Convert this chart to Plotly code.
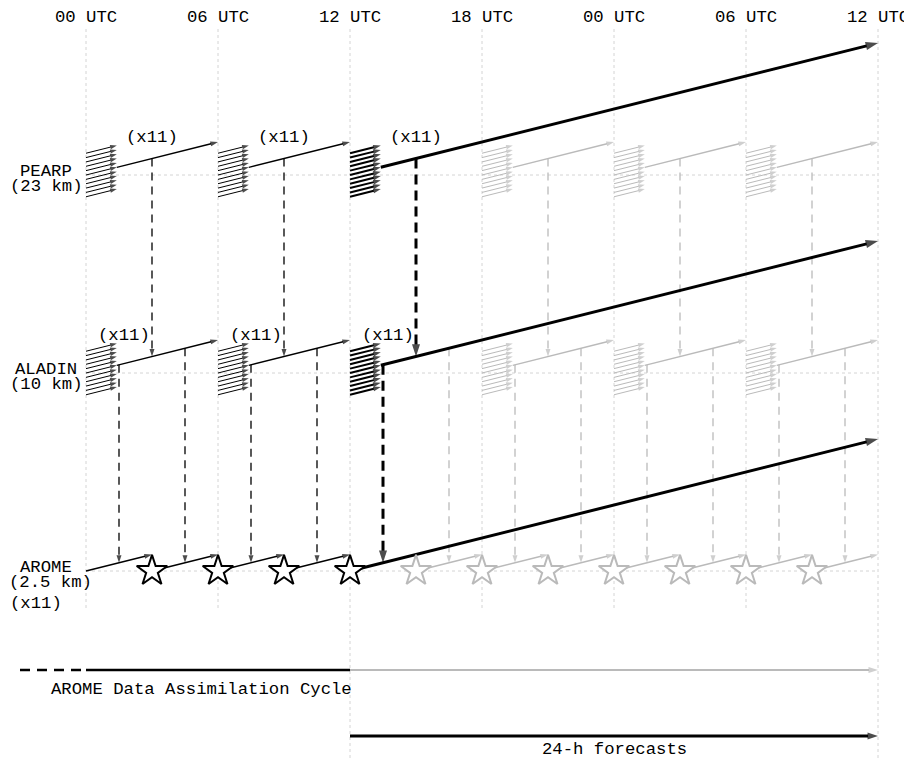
import plotly.graph_objects as go

# ---------------- data ----------------
hour_ticks = [0, 6, 12, 18, 24, 30, 36]
hour_labels = ["00 UTC", "06 UTC", "12 UTC", "18 UTC", "00 UTC", "06 UTC", "12 UTC"]
models = ["PEARP", "ALADIN", "AROME"]
resolutions = ["(23 km)", "(10 km)", "(2.5 km)"]
members = 11
member_label = "(x11)"
coupled_runs = [0, 6, 12, 18, 24, 30]                 # PEARP / ALADIN run times (h)
arome_runs = [0, 3, 6, 9, 12, 15, 18, 21, 24, 27, 30, 33]
current_run = 12
forecast_range = 24
pearp_cycle = 6
arome_cycle = 3
spin_up = 1.4                                         # length of ensemble start arrows (h)
pearp_to_aladin = [3]                                 # coupling offsets (h)
aladin_to_arome = [1.5, 4.5]
da_label = "AROME Data Assimilation Cycle"
fc_label = "24-h forecasts"
labelled_runs = [0, 6, 12]

# ---------------- layout constants ----------------
PAGE_OFF = 8                       # default body margin of the html page
W, H = 912 - PAGE_OFF, 760 - PAGE_OFF
X0_PX, PX_PER_H = 86 - PAGE_OFF, 22
PX_PER_ROW = 198
Y0_PX = 769 - PAGE_OFF             # pixel of y = 0
ROW = {"PEARP": 3.0, "ALADIN": 2.0, "AROME": 1.0}
DA_Y, FC_Y = 0.5, 1 / 6
SLOPE = 1 / 36                     # rise per forecast hour
MEMBER_GAP = 0.022
BLACK, GRAY, GRID = "#000000", "#bababa", "#d4d4d4"
FONT = dict(family="Liberation Mono, Courier New, monospace", size=17.3, color="#000000")


def y_px(px):                      # reference-screen pixel -> data y
    return (769 - px) / PX_PER_ROW


def x_px(px):
    return (px - 86) / PX_PER_H


def state_of(t):
    if t < current_run:
        return "past"
    return "current" if t == current_run else "future"


STY = {
    "past": dict(color=BLACK, width=1.3, head=8),
    "current": dict(color=BLACK, width=3, head=13),
    "future": dict(color=GRAY, width=1.3, head=8),
}
ENS = {
    "past": dict(color=BLACK, width=1, head=7),
    "current": dict(color=BLACK, width=2, head=8),
    "future": dict(color=GRAY, width=1, head=7),
}
DASH = {"past": "8px,6px", "current": "10px,6px", "future": "8px,6px"}
ORDER = {"future": 0, "past": 1, "current": 2}

groups = {}


def arrow(x0, y0, x1, y1, sty, dash="solid", rank=1, head=True):
    key = (rank, sty["color"], sty["width"], sty["head"], dash)
    g = groups.setdefault(key, {"x": [], "y": [], "s": []})
    g["x"] += [x0, x1, None]
    g["y"] += [y0, y1, None]
    g["s"] += [0, sty["head"] if head else 0, 0]


# ensembles and forecast arrows for PEARP and ALADIN
for name in ["PEARP", "ALADIN"]:
    r = ROW[name]
    for t in coupled_runs:
        st = state_of(t)
        for k in range(-(members // 2), members // 2 + 1):
            off = k * MEMBER_GAP
            arrow(t, r + off, t + spin_up, r + off + spin_up * SLOPE, ENS[st], rank=ORDER[st])
        end = t + (forecast_range if st == "current" else pearp_cycle)
        arrow(t + spin_up, r + spin_up * SLOPE, end, r + (end - t) * SLOPE, STY[st], rank=ORDER[st])

# PEARP -> ALADIN coupling
for t in coupled_runs:
    st = state_of(t)
    for o in pearp_to_aladin:
        arrow(t + o, ROW["PEARP"] + o * SLOPE, t + o, ROW["ALADIN"] + o * SLOPE,
              STY[st], dash=DASH[st], rank=ORDER[st])

# ALADIN -> AROME coupling
for t in coupled_runs:
    for o in aladin_to_arome:
        c = t + o
        feeds = (c // arome_cycle) * arome_cycle
        st = state_of(feeds)
        arrow(c, ROW["ALADIN"] + o * SLOPE, c, ROW["AROME"] + (c - feeds) * SLOPE,
              STY[st], dash=DASH[st], rank=ORDER[st])

# AROME cycle arrows
for t in arome_runs:
    st = state_of(t)
    end = t + (forecast_range if st == "current" else arome_cycle)
    arrow(t, ROW["AROME"], end, ROW["AROME"] + (end - t) * SLOPE, STY[st], rank=ORDER[st])

# DA cycle and forecast lines
arrow(-arome_cycle, DA_Y, 0, DA_Y, dict(color=BLACK, width=2.5, head=0), dash="10px,7px", rank=1, head=False)
arrow(0, DA_Y, current_run, DA_Y, dict(color=BLACK, width=2.5, head=0), rank=1, head=False)
arrow(current_run, DA_Y, current_run + forecast_range, DA_Y, dict(color=GRAY, width=2.2, head=10), rank=0)
arrow(current_run, FC_Y, current_run + forecast_range, FC_Y, dict(color=BLACK, width=2.8, head=11), rank=2)

fig = go.Figure()

for key in sorted(groups, key=lambda k: k[0]):
    rank, color, width, head, dash = key
    g = groups[key]
    fig.add_trace(go.Scatter(
        x=g["x"], y=g["y"], mode="lines+markers", hoverinfo="skip",
        line=dict(color=color, width=width, dash=dash),
        marker=dict(symbol="arrow", angleref="previous", size=g["s"], color=color,
                    line=dict(width=0)),
    ))

# stars (analyses)
star_t = arome_runs[1:]
for is_future, color in [(True, GRAY), (False, BLACK)]:
    xs = [t for t in star_t if (state_of(t) == "future") == is_future]
    fig.add_trace(go.Scatter(
        x=xs, y=[ROW["AROME"]] * len(xs), mode="markers", hoverinfo="skip",
        marker=dict(symbol="star", size=23, color="white", line=dict(color=color, width=2)),
    ))

# grid lines
shapes = []
for t in hour_ticks:
    bottom = y_px(760) if t in (current_run, current_run + forecast_range) else y_px(610)
    shapes.append(dict(type="line", xref="x", yref="y", x0=t, x1=t, y0=y_px(29), y1=bottom,
                       line=dict(color=GRID, width=1, dash="dot"), layer="below"))
for name in models:
    shapes.append(dict(type="line", xref="x", yref="y", x0=0, x1=36, y0=ROW[name], y1=ROW[name],
                       line=dict(color=GRID, width=1, dash="dot"), layer="below"))

ann = []
for t, lab in zip(hour_ticks, hour_labels):
    ann.append(dict(x=t, y=y_px(17), text=lab))
for t in labelled_runs:
    ann.append(dict(x=t + pearp_to_aladin[0], y=ROW["PEARP"] + 0.187, text=member_label))
    ann.append(dict(x=t + 1.72, y=ROW["ALADIN"] + 0.187, text=member_label))
lab_x = x_px(46)
for name, res in zip(models, resolutions):
    ann.append(dict(x=lab_x, y=ROW[name] + 0.02, text=name))
    ann.append(dict(x=x_px(50) if name == "AROME" else lab_x, y=ROW[name] - 0.058, text=res))
ann.append(dict(x=x_px(36), y=ROW["AROME"] - 0.162, text=member_label))
ann.append(dict(x=x_px(201), y=y_px(689), text=da_label))
ann.append(dict(x=current_run + forecast_range / 2, y=y_px(749), text=fc_label))
for a in ann:
    a.update(xref="x", yref="y", showarrow=False, font=FONT, xanchor="center", yanchor="middle")

fig.update_layout(
    width=W, height=H, margin=dict(l=0, r=0, t=0, b=0),
    paper_bgcolor="white", plot_bgcolor="white", showlegend=False,
    xaxis=dict(visible=False, range=[-X0_PX / PX_PER_H, (W - X0_PX) / PX_PER_H], fixedrange=True),
    yaxis=dict(visible=False, range=[(Y0_PX - H) / PX_PER_ROW, Y0_PX / PX_PER_ROW], fixedrange=True),
    shapes=shapes, annotations=ann,
)

fig.write_html("out.html")
